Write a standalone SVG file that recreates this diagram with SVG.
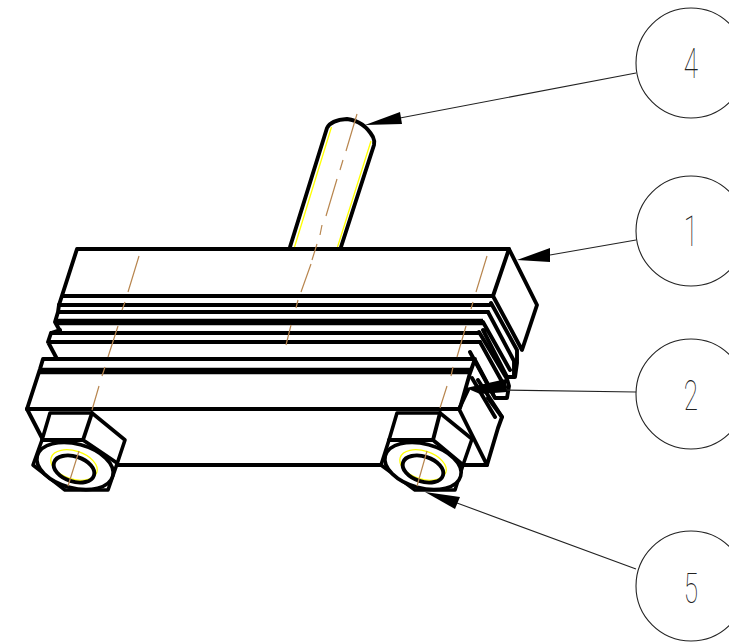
<svg xmlns="http://www.w3.org/2000/svg" width="729" height="642" viewBox="0 0 729 642">
<defs><style>
.k{fill:none;stroke:#000;stroke-width:3.9;stroke-linejoin:round;stroke-linecap:round}
.b{fill:none;stroke:#000;stroke-width:6.5}
.w{fill:#fff;stroke:#000;stroke-width:3.6;stroke-linejoin:round}
.t{fill:none;stroke:#222;stroke-width:1.1}
.c{fill:none;stroke:#b8864f;stroke-width:1.2}
.y{fill:none;stroke:#ffff00;stroke-width:1.3}
.a{fill:#000}
.n{font-family:Roboto,"Liberation Sans",sans-serif;font-weight:100;font-size:42px;fill:#222;text-anchor:middle}
</style></defs>
<rect width="729" height="642" fill="#fff"/>
<g id="rod">
<path class="k" d="M290 247L327 128Q331 120 347 119Q364 121 373 137Q375 141 374 145L341 247"/>
<path class="y" d="M294.500 247L331.500 127M337.500 247L371 141"/>
</g>
<g id="block-top">
<path class="k" d="M59 305L77 249H509L493 296"/>
<path class="k" d="M509 249L537 305L522 350L493 296"/>
<path class="k" d="M63 296H493M59 305H490"/>
</g>
<g id="plate-1">
<path class="k" d="M59 305L58 312L55 322L60 331M58 312H488"/>
<path class="b" d="M55 322H483"/>
<path class="k" d="M491 303L517 350L517 363L515 377H507L483 330M488 312L514 361V375M483 322L510 370"/>
</g>
<g id="plate-2">
<path class="k" d="M51 333H479M48 342H480M51 333L48 342L57 359M60 330L51 333"/>
<path class="k" d="M479 332L507 379L509 386L507 398H495L470 352M480 342L505 387"/>
</g>
<g id="plate-3">
<path class="k" d="M27 409L40 369L43 359H475L470 373M475 360L493 394M470 373L460 408"/>
<path class="b" d="M40 371H470"/>
<path class="k" d="M27 409H459L468 390M459 409L487 465M472 378L495 417M478 380L502 417L498 428L487 465"/>
<path class="k" d="M488 398L502 417M117 465H487M27 409L42 438"/>
</g>
<g id="nut-left">
<path class="w" d="M50 413H92L125 440L117 464L108 490H65L33 465L42 440Z"/>
<path class="k" d="M42 440H83L92 413M83 440L117 463"/>
<ellipse class="w" cx="75" cy="466" rx="39" ry="22" transform="rotate(15 75 466)"/>
<ellipse class="y" cx="74" cy="465" rx="24" ry="14" transform="rotate(18 74 465)"/>
<ellipse class="k" cx="74" cy="469" rx="21" ry="12.500" transform="rotate(18 74 469)"/>
</g>
<g id="nut-right">
<path class="w" d="M397 413H440L472 439L463 465L455 490H415L381 465L389 440Z"/>
<path class="k" d="M389 440H433L440 413M433 440L463 465"/>
<ellipse class="w" cx="423" cy="466" rx="39" ry="22" transform="rotate(15 423 466)"/>
<ellipse class="y" cx="423" cy="465" rx="24" ry="14" transform="rotate(18 423 465)"/>
<ellipse class="k" cx="423" cy="469" rx="21" ry="12.500" transform="rotate(18 423 469)"/>
</g>
<g id="centerlines">
<path class="c" d="M139 256L128 292M125 302L122 310M118 326L108 357M105 367L102 376M99 386L92 410M79 451L68 486"/>
<path class="c" d="M487 256L476 292M473 302L471 309M466 326L457 357M453 367L451 376M447 386L440 408M427 451L417 486"/>
<path class="c" d="M357 114L346 151M343 160L340 170M337 179L326 216M322 225L320 235M317 244L312 260M311 264L301 292M298 300L296 308M291 325L286 345"/>
</g>
<g id="connectors">
<path class="t" d="M636 73L400 118M636 240L550 255M636 392L500 390M636 569L457 503"/>
<polygon class="a" points="365,125 400,112 402,124"/>
<polygon class="a" points="517,260 550,248 550,262"/>
<polygon class="a" points="466,388 506,379 507,392 480,394"/>
<polygon class="a" points="425,492 460,497 455,509"/>
</g>
<g id="balloon-4"><circle class="t" cx="691" cy="63" r="55"/><text class="n" transform="translate(691 78) scale(.62 1)">4</text></g>
<g id="balloon-1"><circle class="t" cx="691" cy="231" r="55"/><text class="n" transform="translate(691 246) scale(.62 1)">1</text></g>
<g id="balloon-2"><circle class="t" cx="691" cy="394" r="55"/><text class="n" transform="translate(691 410) scale(.62 1)">2</text></g>
<g id="balloon-5"><circle class="t" cx="691" cy="586" r="55"/><text class="n" transform="translate(691 603) scale(.62 1)">5</text></g>
</svg>
